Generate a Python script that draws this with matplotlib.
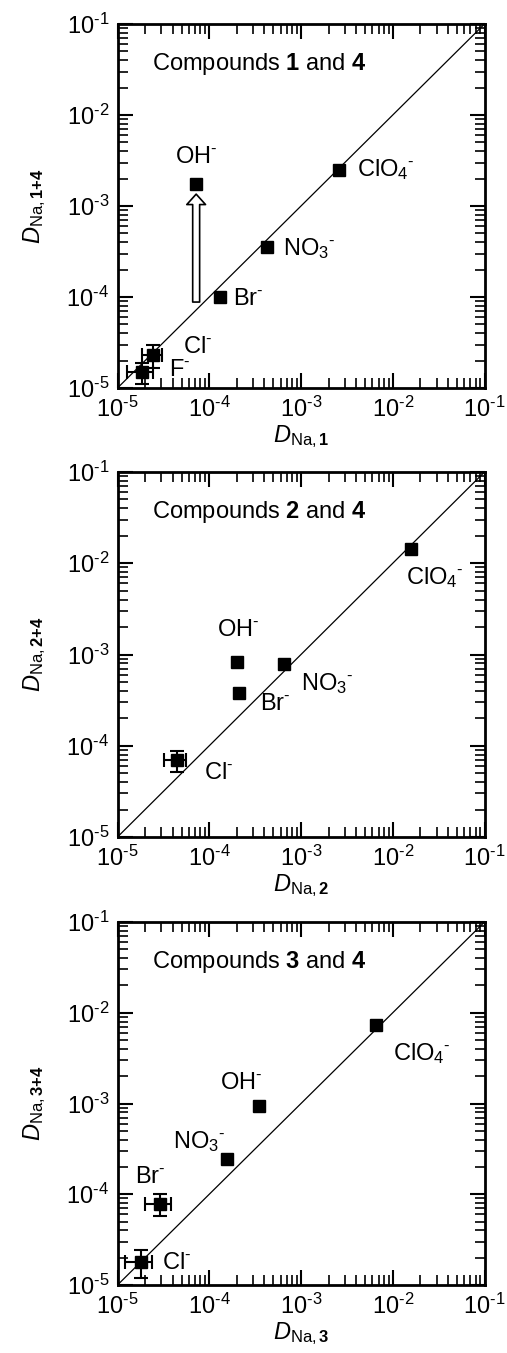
import numpy as np
import matplotlib
matplotlib.use("Agg")
import matplotlib.pyplot as plt
from matplotlib.patches import ArrowStyle
from matplotlib.ticker import FuncFormatter

plt.rcParams['font.family'] = ['Liberation Sans', 'DejaVu Sans']
plt.rcParams['mathtext.fontset'] = 'custom'
plt.rcParams['mathtext.rm'] = 'Liberation Sans'
plt.rcParams['mathtext.it'] = 'Liberation Sans:italic'
plt.rcParams['mathtext.bf'] = 'Liberation Sans:bold'
plt.rcParams['axes.unicode_minus'] = False

# axis range shared by all panels (also the y = x reference line)
lims = [1e-5, 1e-1]

ion_text = {'ClO4': r'ClO$_4{}^{\text{-}}$', 'NO3': r'NO$_3{}^{\text{-}}$', 'Br': r'Br$^{\text{-}}$',
            'OH': r'OH$^{\text{-}}$', 'Cl': r'Cl$^{\text{-}}$', 'F': r'F$^{\text{-}}$'}

# panel 1: compounds 1 and 4
ions1 = ['ClO4', 'NO3', 'Br', 'OH', 'Cl', 'F']
x1 = [2.6e-3, 4.3e-4, 1.3e-4, 7.2e-5, 2.45e-5, 1.86e-5]
y1 = [2.5e-3, 3.5e-4, 1.0e-4, 1.75e-3, 2.3e-5, 1.5e-5]
xerr1 = [0, 0, 0, 0, 6e-6, 6e-6]
yerr1 = [0, 0, 0, 0, 6.5e-6, 4e-6]
oh_arrow = [8.8e-5, 1.35e-3]   # start / end of the OH- shift arrow

# panel 2: compounds 2 and 4
ions2 = ['ClO4', 'OH', 'Br', 'NO3', 'Cl']
x2 = [1.6e-2, 2.0e-4, 2.1e-4, 6.5e-4, 4.4e-5]
y2 = [1.45e-2, 8.3e-4, 3.8e-4, 7.9e-4, 7.0e-5]
xerr2 = [0, 0, 0, 0, 1.2e-5]
yerr2 = [0, 0, 0, 0, 1.8e-5]

# panel 3: compounds 3 and 4
ions3 = ['ClO4', 'OH', 'NO3', 'Br', 'Cl']
x3 = [6.5e-3, 3.5e-4, 1.55e-4, 2.9e-5, 1.8e-5]
y3 = [7.3e-3, 9.3e-4, 2.45e-4, 7.9e-5, 1.8e-5]
xerr3 = [0, 0, 0, 9e-6, 6e-6]
yerr3 = [0, 0, 0, 2.1e-5, 6e-6]

# label offsets (pixels) from each point
off1 = [(18, 0), (16, -1), (13, -2), (-21, 27), (30, 8), (27, 2)]
off2 = [(-5, -29), (-20, 32), (21, -11), (17, -20), (27, -13)]
off3 = [(17, -28), (-39, 23), (-54, 17), (-25, 27), (21, -1)]

fs = 17


def pow_fmt(v, pos):
    e = int(round(np.log10(v)))
    return r'$\mathdefault{10^{\text{-}%d}}$' % (-e) if e < 0 else r'$\mathdefault{10^{%d}}$' % e


def panel(ax, ions, x, y, xerr, yerr, offs, num):
    x = np.array(x); y = np.array(y)
    xerr = np.array(xerr); yerr = np.array(yerr)
    ax.set_xscale('log'); ax.set_yscale('log')
    ax.set_xlim(lims); ax.set_ylim(lims)
    ax.plot(lims, lims, color='black', lw=0.9, zorder=1)
    m = (xerr > 0) | (yerr > 0)
    ax.errorbar(x[m], y[m], xerr=xerr[m], yerr=yerr[m], fmt='none',
                ecolor='black', elinewidth=1.5, capsize=5, capthick=1.5, zorder=2)
    ax.plot(x, y, 's', color='black', ms=9, zorder=3)
    for ion, xi, yi, o in zip(ions, x, y, offs):
        ax.annotate(ion_text[ion], (xi, yi), xytext=o, textcoords='offset pixels',
                    ha='left', va='center', fontsize=fs)
    ax.text(0.095, 0.89, r'Compounds $\mathbf{%s}$ and $\mathbf{4}$' % num,
            transform=ax.transAxes, fontsize=fs, va='center', ha='left')
    ax.set_xlabel(r'$\mathit{D}_{\mathrm{Na,}\mathbf{%s}}$' % num, fontsize=fs, labelpad=1)
    ax.set_ylabel(r'$\mathit{D}_{\mathrm{Na,}\mathbf{%s{+}4}}$' % num, fontsize=fs, labelpad=13)
    ax.xaxis.set_major_formatter(FuncFormatter(pow_fmt))
    ax.yaxis.set_major_formatter(FuncFormatter(pow_fmt))
    ax.tick_params(which='both', direction='in', top=True, right=True, labelsize=fs)
    ax.tick_params(which='major', length=11, width=1.5, pad=6)
    ax.tick_params(which='minor', length=7, width=1.2)
    for s in ax.spines.values():
        s.set_linewidth(2)


fig = plt.figure(figsize=(5.07, 13.53), dpi=100)
W, H = 507, 1353
boxes = [(117.5, 24, 388), (117.5, 472, 837), (117.5, 922, 1285)]
axes = [fig.add_axes([l / W, 1 - b / H, 367 / W, (b - t) / H]) for l, t, b in boxes]

panel(axes[0], ions1, x1, y1, xerr1, yerr1, off1, '1')
panel(axes[1], ions2, x2, y2, xerr2, yerr2, off2, '2')
panel(axes[2], ions3, x3, y3, xerr3, yerr3, off3, '3')

# hollow arrow showing the OH- shift in panel 1
ohx = x1[ions1.index('OH')]
axes[0].annotate('', xy=(ohx, oh_arrow[1]), xytext=(ohx, oh_arrow[0]),
                 arrowprops=dict(arrowstyle=ArrowStyle.Simple(head_length=7.5, head_width=13.5, tail_width=5),
                                 mutation_scale=1, fc='white', ec='black', lw=1.2,
                                 shrinkA=0, shrinkB=0), zorder=2)

fig.savefig('out.png', dpi=100)
